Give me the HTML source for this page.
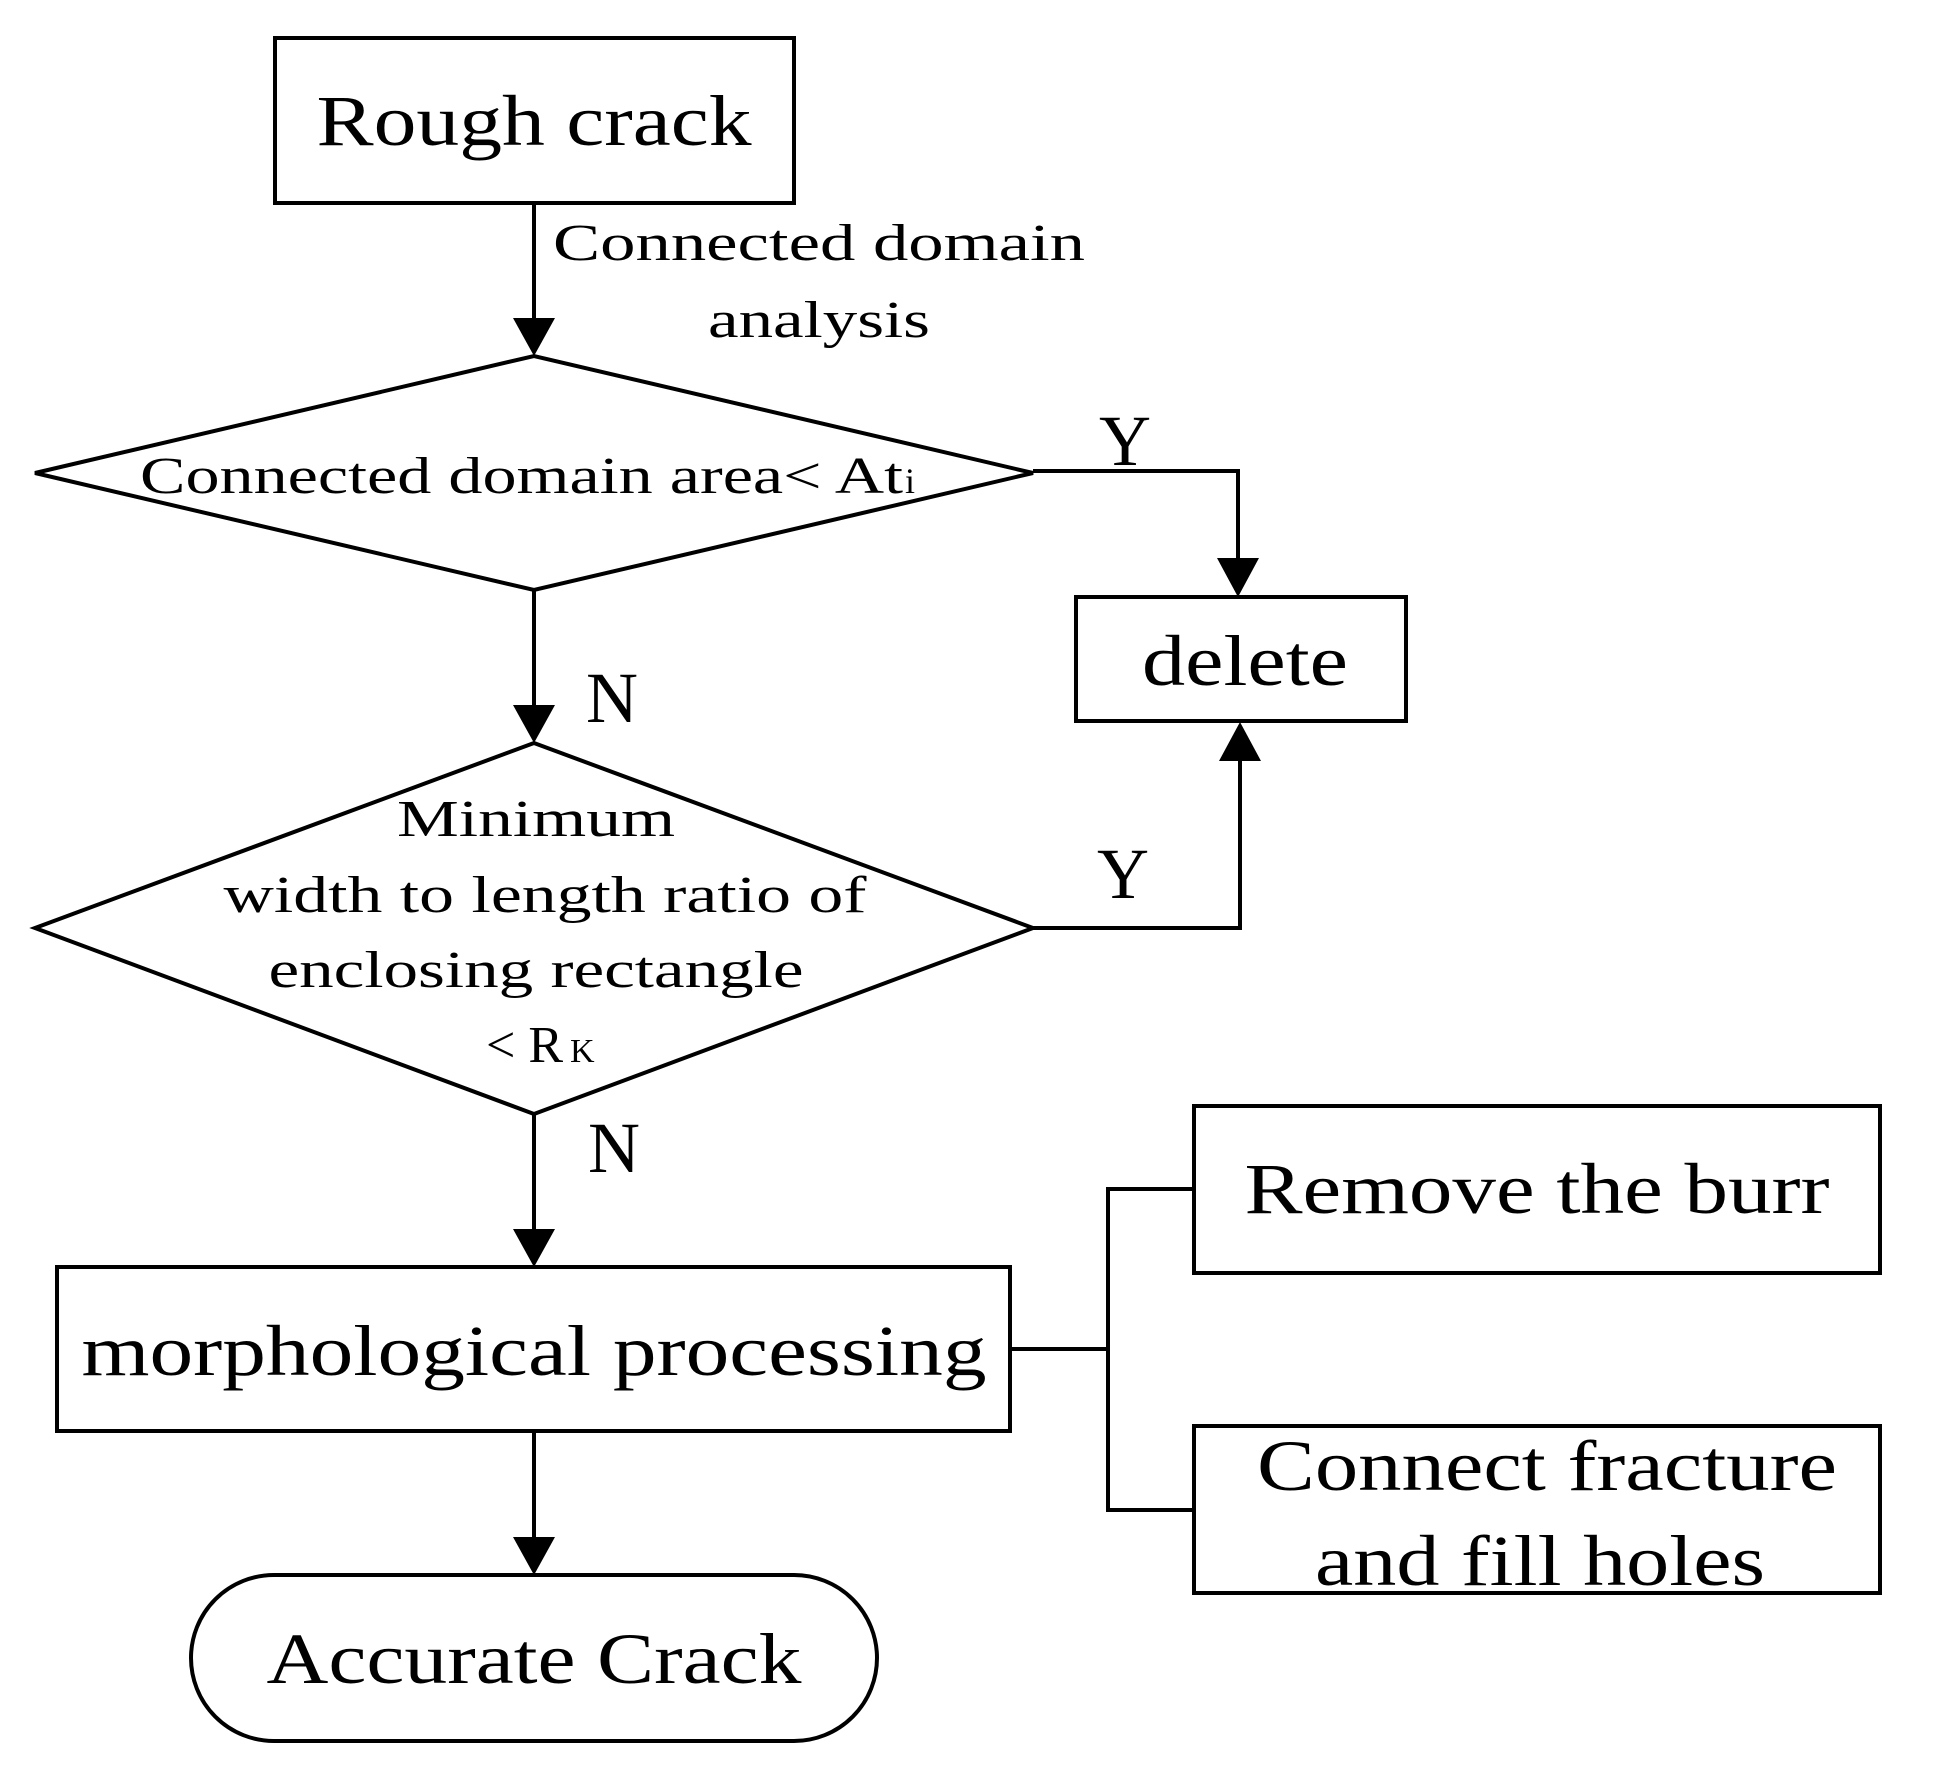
<!DOCTYPE html>
<html><head><style>html,body{margin:0;padding:0;background:#fff}svg{display:block}</style></head>
<body>
<svg width="1947" height="1771" viewBox="0 0 1947 1771" xmlns="http://www.w3.org/2000/svg" font-family="Liberation Serif, serif" fill="#000">
<g fill="none" stroke="#000" stroke-width="4">
<rect x="275" y="38" width="519" height="165"/>
<polygon points="35,473 534,356 1033,473 534,590"/>
<rect x="1076" y="597" width="330" height="124"/>
<polygon points="35,928 534,743 1033,928 534,1114"/>
<rect x="57" y="1267" width="953" height="164"/>
<rect x="191" y="1575" width="686" height="166" rx="83"/>
<rect x="1194" y="1106" width="686" height="167"/>
<rect x="1194" y="1426" width="686" height="167"/>
<line x1="534" y1="203" x2="534" y2="320"/>
<line x1="534" y1="590" x2="534" y2="707"/>
<line x1="534" y1="1114" x2="534" y2="1231"/>
<line x1="534" y1="1431" x2="534" y2="1539"/>
<polyline points="1033,471 1238,471 1238,560"/>
<polyline points="1033,928 1240,928 1240,760"/>
<polyline points="1010,1349 1108,1349"/>
<polyline points="1194,1189 1108,1189 1108,1510 1194,1510"/>
</g>
<polygon points="513,318 555,318 534,356"/>
<polygon points="513,705 555,705 534,743"/>
<polygon points="513,1229 555,1229 534,1267"/>
<polygon points="513,1537 555,1537 534,1575"/>
<polygon points="1217,558 1259,558 1238,597"/>
<polygon points="1219,761 1261,761 1240,722"/>
<g font-size="72">
<text x="534" y="145" text-anchor="middle" textLength="435" lengthAdjust="spacingAndGlyphs">Rough crack</text>
<text x="1245" y="685" text-anchor="middle" textLength="206" lengthAdjust="spacingAndGlyphs">delete</text>
<text x="534" y="1375" text-anchor="middle" textLength="905" lengthAdjust="spacingAndGlyphs">morphological processing</text>
<text x="534" y="1683" text-anchor="middle" textLength="535" lengthAdjust="spacingAndGlyphs">Accurate Crack</text>
<text x="1537" y="1213" text-anchor="middle" textLength="585" lengthAdjust="spacingAndGlyphs">Remove the burr</text>
<text x="1547" y="1490" text-anchor="middle" textLength="580" lengthAdjust="spacingAndGlyphs">Connect fracture</text>
<text x="1540" y="1585" text-anchor="middle" textLength="450" lengthAdjust="spacingAndGlyphs">and fill holes</text>
<text x="1125" y="465" text-anchor="middle">Y</text>
<text x="1123" y="898" text-anchor="middle">Y</text>
<text x="612" y="722" text-anchor="middle">N</text>
<text x="614" y="1172" text-anchor="middle">N</text>
</g>
<g font-size="52">
<text x="553" y="260" textLength="532" lengthAdjust="spacingAndGlyphs">Connected domain</text>
<text x="819" y="337" text-anchor="middle" textLength="222" lengthAdjust="spacingAndGlyphs">analysis</text>
<text x="140" y="493" textLength="763" lengthAdjust="spacingAndGlyphs">Connected domain area&lt; At</text>
<text x="905" y="493" font-size="36">i</text>
<text x="536" y="836" text-anchor="middle" textLength="278" lengthAdjust="spacingAndGlyphs">Minimum</text>
<text x="545" y="912" text-anchor="middle" textLength="643" lengthAdjust="spacingAndGlyphs">width to length ratio of</text>
<text x="536" y="987" text-anchor="middle" textLength="535" lengthAdjust="spacingAndGlyphs">enclosing rectangle</text>
<text x="486" y="1062">&lt; R</text>
<text x="570" y="1062" font-size="34">K</text>
</g>
</svg>
</body></html>
